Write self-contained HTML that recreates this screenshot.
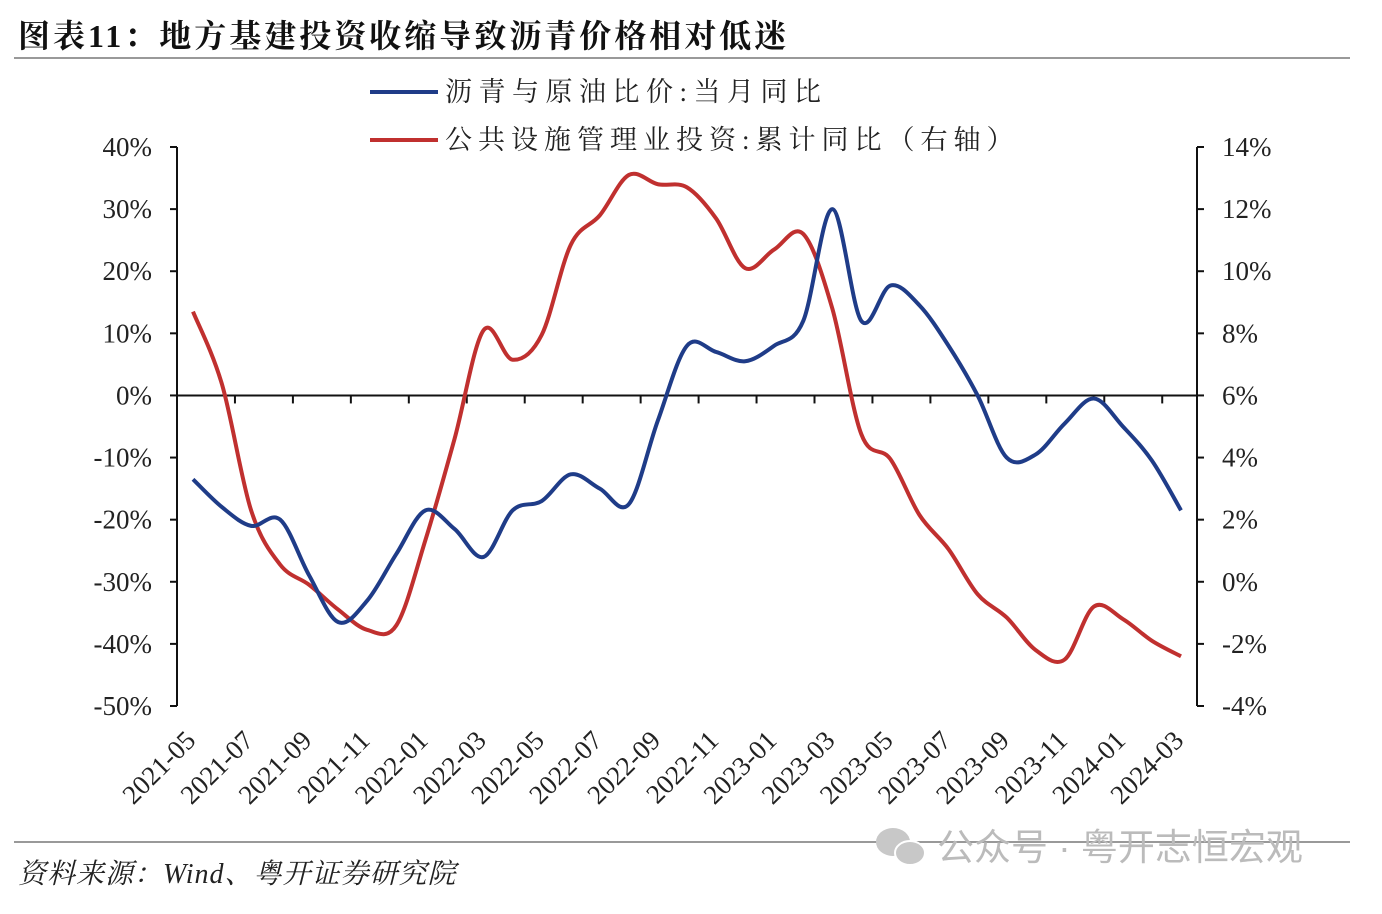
<!DOCTYPE html>
<html><head><meta charset="utf-8">
<style>
body{margin:0;background:#fff;width:1382px;height:914px;overflow:hidden;font-family:"Liberation Serif","Noto Serif CJK SC",serif;}
svg{position:absolute;left:0;top:0}
</style></head><body>
<svg width="1382" height="914">
<text x="18" y="47" font-size="32" font-weight="bold" fill="#111" letter-spacing="3" font-family="Liberation Serif, Noto Serif CJK SC, serif">图表11：地方基建投资收缩导致沥青价格相对低迷</text>
<line x1="14" y1="58" x2="1350" y2="58" stroke="#999" stroke-width="2"/>
<g id="legend">
<line x1="370" y1="92" x2="438" y2="92" stroke="#1f3c88" stroke-width="4"/>
<text x="445" y="101" font-size="27" fill="#222" letter-spacing="6.5">沥青与原油比价:当月同比</text>
<line x1="370" y1="140" x2="438" y2="140" stroke="#c0302f" stroke-width="4"/>
<text x="445" y="149" font-size="27" fill="#222" letter-spacing="6">公共设施管理业投资:累计同比（右轴）</text>
</g>
<g id="axes"></g>
<g id="plot"></g>
<line x1="14" y1="842" x2="1350" y2="842" stroke="#999" stroke-width="2"/>
<text x="18" y="883" font-size="28" font-style="italic" fill="#222" letter-spacing="1">资料来源：Wind、粤开证券研究院</text>
<g fill="#c8c8c8">
<ellipse cx="893" cy="842" rx="17" ry="14"/><ellipse cx="910" cy="853" rx="15" ry="12" stroke="#fff" stroke-width="2"/>
</g>
<text x="937" y="860" font-size="37" fill="#bbb" font-family="Liberation Sans, Noto Sans CJK SC, sans-serif">公众号 · 粤开志恒宏观</text>
</svg>
<script>
const months=["2021-05","2021-06","2021-07","2021-08","2021-09","2021-10","2021-11","2021-12","2022-01","2022-02","2022-03","2022-04","2022-05","2022-06","2022-07","2022-08","2022-09","2022-10","2022-11","2022-12","2023-01","2023-02","2023-03","2023-04","2023-05","2023-06","2023-07","2023-08","2023-09","2023-10","2023-11","2023-12","2024-01","2024-02","2024-03"];
const asphaltYoY=[-13.5,-18,-21,-20,-29,-36.5,-33,-25.5,-18.5,-21.5,-26,-18.5,-17,-12.7,-15,-17.5,-4,8,7,5.5,8,12,30,12,17.7,14.5,8,0,-10,-9.5,-4.5,-0.5,-5,-10.5,-18.5];
const investYoY=[8.7,6.35,2.3,0.55,-0.1,-0.9,-1.55,-1.4,1.35,4.6,8.1,7.15,7.95,10.85,11.8,13.1,12.8,12.7,11.7,10.1,10.7,11.2,8.8,4.75,3.95,2.15,1.05,-0.4,-1.15,-2.2,-2.5,-0.8,-1.2,-1.9,-2.4];
const leftTicks=[40,30,20,10,0,-10,-20,-30,-40,-50];
const rightTicks=[14,12,10,8,6,4,2,0,-2,-4];
const NS="http://www.w3.org/2000/svg";
const L=177,R=1197,T=147,B=706;
const yL=v=>T+(40-v)/90*(B-T);
const yR=v=>T+(14-v)/18*(B-T);
const xM=i=>193+i*(1181-193)/(months.length-1);
function mk(tag,at,parent){const e=document.createElementNS(NS,tag);for(const k in at)e.setAttribute(k,at[k]);parent.appendChild(e);return e;}
const ax=document.getElementById('axes'),pl=document.getElementById('plot');
let e;
e=mk('line',{x1:L,y1:T,x2:L,y2:B,stroke:'#111','stroke-width':2},ax);


e=mk('line',{x1:R,y1:T,x2:R,y2:B,stroke:'#111','stroke-width':2},ax);


e=mk('line',{x1:L,y1:yL(0),x2:R,y2:yL(0),stroke:'#111','stroke-width':2},ax);


leftTicks.forEach(v=>{const y=yL(v);
mk('line',{x1:L-7,y1:y,x2:L,y2:y,stroke:'#111','stroke-width':2},ax);
e=mk('text',{x:152,y:y+9,'text-anchor':'end','font-size':27,fill:'#222'},ax);e.textContent=v+'%';

});
rightTicks.forEach(v=>{const y=yR(v);
mk('line',{x1:R,y1:y,x2:R+7,y2:y,stroke:'#111','stroke-width':2},ax);
e=mk('text',{x:1222,y:y+9,'font-size':27,fill:'#222'},ax);e.textContent=v+'%';

});
for(let k=1;k<=17;k++){const x=L+k*(R-L)/17.6;mk('line',{x1:x,y1:yL(0),x2:x,y2:yL(0)+8,stroke:'#111','stroke-width':2},ax);}
months.forEach((m,i)=>{if(i%2)return;const x=xM(i)+4,y=742;
e=mk('text',{x:x,y:y,'text-anchor':'end','font-size':27,fill:'#222',transform:`rotate(-45 ${x} ${y})`},ax);e.textContent=m;

});
function path(vals,yf){const p=vals.map((v,i)=>[xM(i),yf(v)]);let d=`M${p[0][0]},${p[0][1]}`;
for(let i=0;i<p.length-1;i++){const p0=p[Math.max(0,i-1)],p1=p[i],p2=p[i+1],p3=p[Math.min(p.length-1,i+2)];
d+=` C${p1[0]+(p2[0]-p0[0])/6},${p1[1]+(p2[1]-p0[1])/6} ${p2[0]-(p3[0]-p1[0])/6},${p2[1]-(p3[1]-p1[1])/6} ${p2[0]},${p2[1]}`;}return d;}
e=mk('path',{d:path(investYoY,yR),fill:'none',stroke:'#c0302f','stroke-width':4,'stroke-linejoin':'round'},pl);


e=mk('path',{d:path(asphaltYoY,yL),fill:'none',stroke:'#1f3c88','stroke-width':4,'stroke-linejoin':'round'},pl);


</script>
</body></html>
